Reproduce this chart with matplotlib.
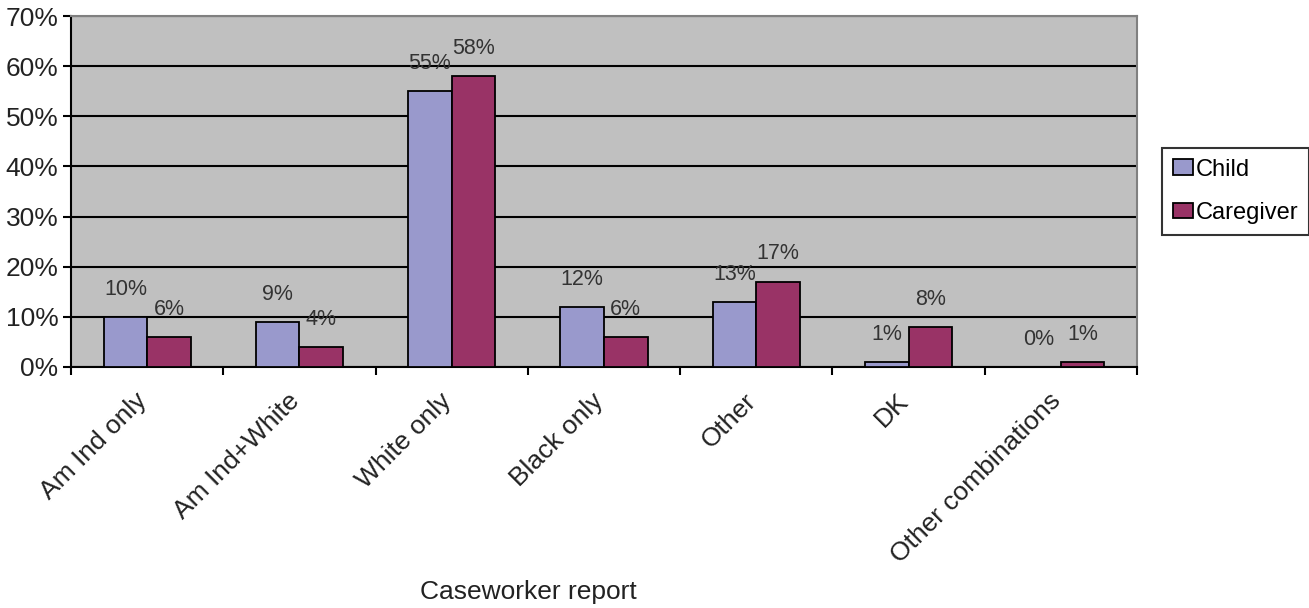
import numpy as np
import matplotlib
matplotlib.use("Agg")
import matplotlib.pyplot as plt
import matplotlib.transforms as mtransforms

plt.rcParams["font.family"] = ["Liberation Sans", "DejaVu Sans"]

categories = ["Am Ind only", "Am Ind+White", "White only", "Black only",
              "Other", "DK", "Other combinations"]
child = [10, 9, 55, 12, 13, 1, 0]
caregiver = [6, 4, 58, 6, 17, 8, 1]
y_ticks = [0, 10, 20, 30, 40, 50, 60, 70]

child_color = "#9999CC"
caregiver_color = "#993366"

fig = plt.figure(figsize=(13.09, 6.08), dpi=100)
ax = fig.add_axes([71 / 1309, 241 / 608, 1066 / 1309, 351 / 608])
ax.set_facecolor("#C0C0C0")

x = np.arange(len(categories))
w = 1 / 3.5  # Excel style: gap width 150%

bars_c = ax.bar(x - w / 2, child, width=w, color=child_color,
                edgecolor="black", linewidth=1.3, label="Child", zorder=3)
bars_g = ax.bar(x + w / 2, caregiver, width=w, color=caregiver_color,
                edgecolor="black", linewidth=1.3, label="Caregiver", zorder=3)

# value labels sit a fixed distance above each bar
for bars, vals in ((bars_c, child), (bars_g, caregiver)):
    for b, v in zip(bars, vals):
        ax.annotate(f"{v}%", (b.get_x() + b.get_width() / 2, v),
                    xytext=(0, 20), textcoords="offset points",
                    ha="center", va="center", fontsize=15.5, color="#333333",
                    zorder=4)

ax.set_xlim(-0.5, len(categories) - 0.5)
ax.set_ylim(0, 70)
ax.set_yticks(y_ticks)
ax.set_yticklabels([f"{t}%" for t in y_ticks], fontsize=19, color="#222222")
ax.yaxis.grid(True, color="black", linewidth=1.5, zorder=1)
ax.set_axisbelow(True)

# tick marks on category boundaries, labels at category centres
ax.set_xticks(np.arange(len(categories) + 1) - 0.5)
ax.set_xticklabels([])
ax.set_xticks(x, minor=True)
ax.set_xticklabels(categories, minor=True, rotation=45, ha="right",
                   rotation_mode="anchor", fontsize=19, color="#222222")
ax.tick_params(axis="x", which="minor", length=0, pad=0)
ax.tick_params(axis="x", which="major", length=6, width=1.5, direction="out")
ax.tick_params(axis="y", length=6, width=1.5, direction="out", pad=3)
shift = mtransforms.ScaledTranslation(-4 / 100, -30 / 100, fig.dpi_scale_trans)
for lbl in ax.get_xticklabels(minor=True):
    lbl.set_transform(lbl.get_transform() + shift)
    lbl.set_va("center")

for side in ("left", "bottom"):
    ax.spines[side].set_color("black")
    ax.spines[side].set_linewidth(1.5)
for side in ("top", "right"):
    ax.spines[side].set_color("#808080")
    ax.spines[side].set_linewidth(1.5)

fig.text(528 / 1309, 1 - 592 / 608, "Caseworker report", fontsize=19,
         ha="center", va="center", color="#222222")

leg = fig.legend(loc="upper left", bbox_to_anchor=(1162 / 1309, 1 - 148 / 608),
                 bbox_transform=fig.transFigure, borderaxespad=0,
                 fontsize=17, frameon=True, fancybox=False,
                 handlelength=0.85, handleheight=0.65, handletextpad=0.15,
                 labelspacing=0.9, borderpad=0.45)
leg.get_frame().set_edgecolor("black")
leg.get_frame().set_linewidth(1.5)

fig.savefig("out.png", dpi=100)
